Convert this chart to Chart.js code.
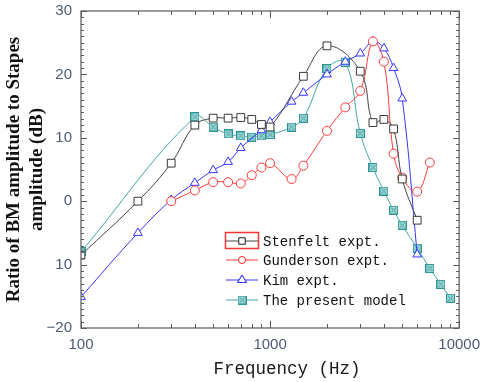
<!DOCTYPE html>
<html>
<head>
<meta charset="utf-8">
<script src="https://cdn.jsdelivr.net/npm/chart.js@4.4.1/dist/chart.umd.min.js"></script>
<style>
  html, body { margin: 0; padding: 0; background: #fff; }
</style>
</head>
<body>
<canvas id="bmChart" width="480" height="382"></canvas>
<script>
// values (Hz, dB)
const stenFreq = [100, 200, 300, 400, 500, 600, 700, 800, 900, 1000, 1500, 2000, 3000, 3500, 4000, 4500, 5000, 6000];
const stenVal  = [-8.5, 0, 6, 12, 13.1, 13.1, 13.2, 12.9, 12.1, 11.7, 19.7, 24.5, 20.5, 12.4, 12.9, 11.4, 3.5, -3];

const gundFreq = [300, 400, 500, 600, 700, 800, 900, 1000, 1300, 1500, 2000, 2500, 3000, 3500, 4000, 4500, 5000, 6000, 7000];
const gundVal  = [0, 1.7, 3, 3, 2.8, 4.1, 5.3, 6, 3.5, 5.6, 11.1, 14.8, 17.4, 25.2, 22, 7.5, 3.7, 1.5, 6.1];

const kimFreq = [100, 200, 300, 400, 500, 600, 700, 900, 1000, 1300, 1500, 2000, 2500, 3000, 3500, 4000, 4500, 5000, 6000];
const kimVal  = [-15.1, -5, 0.2, 2.9, 4.9, 6.2, 8.4, 11.2, 12.5, 15.7, 17.1, 20, 22, 23.3, 25.2, 24.1, 21, 16.2, -8.4];

const modelFreq = [100, 400, 500, 600, 700, 800, 900, 1000, 1300, 1500, 2000, 2500, 3000, 3500, 4000, 4500, 5000, 6000, 7000, 8000, 9000];
const modelVal  = [-8, 13.3, 11.7, 10.6, 10.3, 10.1, 10.3, 10.5, 11.7, 13.1, 20.9, 21.9, 10.7, 5.3, 1.6, -1.4, -3.8, -7.4, -10.6, -13.1, -15.3];

const xTicks = [100, 1000, 10000];
const yTicks = [-20, -10, 0, 10, 20, 30];
const yTickText = ['\u221220', '10', '0', '10', '20', '30'];

const seriesNames = ['Stenfelt expt.', 'Gunderson expt.', 'Kim expt.', 'The present model'];

function pairs(xs, ys) {
  return xs.map((x, i) => ({x: x, y: ys[i]}));
}

// teal crossed square marker
const tealMark = document.createElement('canvas');
tealMark.width = 9; tealMark.height = 9;
(function () {
  const c = tealMark.getContext('2d');
  c.fillStyle = '#9ed3d3';
  c.fillRect(0.5, 0.5, 8, 8);
  c.strokeStyle = '#2c9595';
  c.lineWidth = 1;
  c.strokeRect(0.5, 0.5, 8, 8);
  c.beginPath();
  c.moveTo(2, 2); c.lineTo(7, 7);
  c.moveTo(7, 2); c.lineTo(2, 7);
  c.strokeStyle = '#3c9f9f';
  c.stroke();
})();

const frameAndLegend = {
  id: 'frameAndLegend',
  afterDraw(chart) {
    const ctx = chart.ctx;
    const a = chart.chartArea;
    const xs = chart.scales.x, ys = chart.scales.y;
    ctx.save();
    ctx.strokeStyle = '#5a5a5a';
    ctx.lineWidth = 1.2;
    ctx.strokeRect(a.left, a.top, a.right - a.left, a.bottom - a.top);

    ctx.lineWidth = 1;
    ctx.beginPath();
    for (let v = -20; v <= 30; v++) {
      const y = Math.round(ys.getPixelForValue(v)) + 0.5;
      const len = v % 10 === 0 ? 6 : 3;
      ctx.moveTo(a.left, y); ctx.lineTo(a.left + len, y);
      ctx.moveTo(a.right, y); ctx.lineTo(a.right - len, y);
    }
    for (let d = 100; d <= 1000; d *= 10) {
      for (let k = 1; k <= 10; k++) {
        const v = d * k;
        if (v > 10000) break;
        const x = Math.round(xs.getPixelForValue(v)) + 0.5;
        const len = k === 1 || k === 10 ? 7 : 4;
        ctx.moveTo(x, a.bottom); ctx.lineTo(x, a.bottom - len);
        ctx.moveTo(x, a.top); ctx.lineTo(x, a.top + len);
      }
    }
    ctx.stroke();

    // x axis title
    ctx.fillStyle = '#1a1a1a';
    ctx.font = '17.5px "Liberation Mono", "DejaVu Sans Mono", monospace';
    ctx.textAlign = 'center';
    ctx.textBaseline = 'middle';
    ctx.fillText('Frequency (Hz)', 287, 369);

    // legend
    const lx = 226, rowY = [241, 260, 280, 300];
    ctx.font = '14px "Liberation Mono", "DejaVu Sans Mono", monospace';
    ctx.textAlign = 'left';
    chart.data.datasets.forEach((ds, i) => {
      const y = rowY[i];
      ctx.strokeStyle = ds.borderColor;
      ctx.lineWidth = 1;
      ctx.beginPath();
      ctx.moveTo(lx, y); ctx.lineTo(lx + 32, y);
      ctx.stroke();
      ctx.fillStyle = '#fff';
      Chart.helpers.drawPoint(ctx, {
        pointStyle: ds.pointStyle, radius: ds.legendRadius, rotation: 0,
        borderWidth: 1
      }, lx + 16, y);
      if (typeof ds.pointStyle === 'string') {
        ctx.fillStyle = '#fff';
        ctx.fill();
        ctx.strokeStyle = ds.pointBorderColor;
        ctx.stroke();
      }
      ctx.fillStyle = '#111';
      ctx.fillText(ds.label, lx + 37, y + 1);
    });
    // selection box around the first legend sample
    ctx.strokeStyle = '#ff3030';
    ctx.lineWidth = 1.5;
    ctx.strokeRect(225.5, 232.5, 33, 16);
    ctx.restore();
  }
};

const tickFont = { family: '"Liberation Sans", Arial, sans-serif', size: 15 };

new Chart(document.getElementById('bmChart'), {
  type: 'line',
  data: {
    datasets: [{
        label: seriesNames[0],
        data: pairs(stenFreq, stenVal),
        borderColor: '#444444',
        pointBorderColor: '#3a3a3a',
        pointBackgroundColor: '#fff',
        pointStyle: 'rect',
        pointRadius: 5.5,
        legendRadius: 4.5
      }, {
        label: seriesNames[1],
        data: pairs(gundFreq, gundVal),
        borderColor: '#ff3b3b',
        pointBorderColor: '#ff3b3b',
        pointBackgroundColor: '#fff',
        pointStyle: 'circle',
        pointRadius: 4.5,
        legendRadius: 3.5
      }, {
        label: seriesNames[2],
        data: pairs(kimFreq, kimVal),
        borderColor: '#3535ff',
        pointBorderColor: '#3535ff',
        pointBackgroundColor: '#fff',
        pointStyle: 'triangle',
        pointRadius: 5,
        legendRadius: 5
      }, {
        label: seriesNames[3],
        data: pairs(modelFreq, modelVal),
        borderColor: '#3fa6a6',
        pointBorderColor: '#2c9595',
        pointBackgroundColor: '#9ed3d3',
        pointStyle: tealMark,
        pointRadius: 4.5,
        legendRadius: 4.5
      }
    ]
  },
  options: {
    responsive: false,
    animation: false,
    layout: { padding: { top: 11, right: 19, bottom: 0, left: 0 } },
    elements: {
      line: { borderWidth: 1, tension: 0.4, fill: false },
      point: { borderWidth: 1, hoverRadius: 5 }
    },
    plugins: {
      legend: { display: false },
      tooltip: { enabled: false }
    },
    scales: {
      x: {
        type: 'logarithmic',
        min: 100,
        max: 10000,
        grid: { display: false, drawTicks: true, tickLength: 8 },
        border: { display: false },
        afterBuildTicks: (s) => { s.ticks = xTicks.map(v => ({value: v})); },
        afterFit: (s) => { s.height = 54; },
        ticks: {
          padding: 0,
          maxRotation: 0,
          autoSkip: false,
          color: '#4f5a73',
          font: tickFont,
          callback: (v) => String(v)
        }
      },
      y: {
        min: -20,
        max: 30,
        grid: { display: false, drawTicks: true, tickLength: 9 },
        border: { display: false },
        afterBuildTicks: (s) => { s.ticks = yTicks.map(v => ({value: v})); },
        afterFit: (s) => { s.width = 81; },
        ticks: {
          padding: 0,
          color: '#4f5a73',
          font: tickFont,
          callback: (v) => yTickText[yTicks.indexOf(v)]
        },
        title: {
          display: true,
          text: ['Ratio of BM amplitude to Stapes', 'amplitude (dB)'],
          color: '#111',
          padding: { top: 2.5, bottom: 0 },
          font: { family: '"Liberation Serif", "Times New Roman", serif', size: 19, weight: 'bold', lineHeight: 1.21 }
        }
      }
    }
  },
  plugins: [frameAndLegend]
});
</script>
</body>
</html>
